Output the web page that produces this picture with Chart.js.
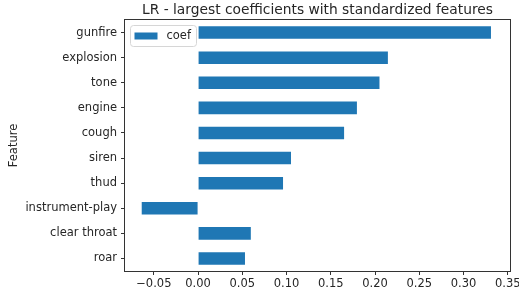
<!DOCTYPE html>
<html>
<head>
<meta charset="utf-8">
<script src="https://cdn.jsdelivr.net/npm/chart.js@4"></script>
<style>
  html, body { margin: 0; padding: 0; background: #fff; }
  #wrap { width: 519px; height: 300px; }
</style>
</head>
<body>
<div id="wrap"><canvas id="coefChart" width="519" height="300"></canvas></div>
<script>
// data
const features = ['gunfire', 'explosion', 'tone', 'engine', 'cough', 'siren', 'thud', 'instrument-play', 'clear throat', 'roar'];
const coef = [0.331, 0.2145, 0.205, 0.1795, 0.165, 0.105, 0.096, -0.0637, 0.0596, 0.053];
const xTicks = [-0.05, 0.00, 0.05, 0.10, 0.15, 0.20, 0.25, 0.30, 0.35];

const chartTitle = 'LR - largest coefficients with standardized features';
const textColor = '#262626';
const axisColor = '#333333';
const tickFont = { family: 'DejaVu Sans', size: 11.5 };

// frame + title + legend box, matplotlib style
const mplDecor = {
    id: 'mplDecor',
    afterDraw(chart) {
        const ctx = chart.ctx;
        const a = chart.chartArea;
        ctx.save();
        // spines
        ctx.strokeStyle = axisColor;
        ctx.lineWidth = 1;
        ctx.strokeRect(Math.round(a.left) - 0.5, Math.round(a.top) - 0.5,
            Math.round(a.right - a.left) + 1, Math.round(a.bottom - a.top) + 1);

        // title
        ctx.fillStyle = textColor;
        ctx.font = '13.8px "DejaVu Sans"';
        ctx.textAlign = 'center';
        ctx.textBaseline = 'middle';
        ctx.fillText(chartTitle, (a.left + a.right) / 2, 10);

        // legend (upper left inside axes)
        const lx = a.left + 5.5, ly = a.top + 5.5, lw = 66, lh = 21, r = 3;
        ctx.beginPath();
        ctx.moveTo(lx + r, ly);
        ctx.arcTo(lx + lw, ly, lx + lw, ly + lh, r);
        ctx.arcTo(lx + lw, ly + lh, lx, ly + lh, r);
        ctx.arcTo(lx, ly + lh, lx, ly, r);
        ctx.arcTo(lx, ly, lx + lw, ly, r);
        ctx.closePath();
        ctx.fillStyle = 'rgba(255,255,255,0.8)';
        ctx.fill();
        ctx.strokeStyle = '#d6d6d6';
        ctx.stroke();
        ctx.fillStyle = '#1f77b4';
        ctx.fillRect(lx + 4, ly + 7, 23, 7);
        ctx.fillStyle = textColor;
        ctx.font = '11.5px "DejaVu Sans"';
        ctx.textAlign = 'left';
        ctx.fillText('coef', lx + 36, ly + 11);
        ctx.restore();
    }
};

const ctx = document.getElementById('coefChart').getContext('2d');
new Chart(ctx, {
    type: 'bar',
    data: {
        labels: features,
        datasets: [{
            label: 'coef',
            data: coef,
            backgroundColor: '#1f77b4',
            borderWidth: 0,
            barPercentage: 0.5,
            categoryPercentage: 1.0
        }]
    },
    options: {
        indexAxis: 'y',
        responsive: false,
        animation: false,
        layout: { padding: { top: 20, right: 9, left: 0, bottom: 0 } },
        plugins: {
            legend: { display: false },
            tooltip: { enabled: false }
        },
        scales: {
            x: {
                min: -0.0826,
                max: 0.3525,
                border: { display: false },
                grid: { drawOnChartArea: false, drawTicks: true, tickLength: 4, color: axisColor },
                afterBuildTicks: (scale) => { scale.ticks = xTicks.map(v => ({ value: v })); },
                afterFit: (scale) => {
                    scale.height = 29;
                    // let the last label hang off the edge like matplotlib does
                    scale.paddingLeft = 0;
                    scale.paddingRight = 0;
                },
                ticks: {
                    color: textColor,
                    padding: 2,
                    maxRotation: 0,
                    font: tickFont,
                    callback: (v) => (v < 0 ? '\u2212' : '') + Math.abs(v).toFixed(2)
                }
            },
            y: {
                border: { display: false },
                grid: { offset: false, drawOnChartArea: false, drawTicks: true, tickLength: 4, color: axisColor },
                afterFit: (scale) => { scale.width = 125; },
                ticks: {
                    color: textColor,
                    padding: 4,
                    font: tickFont
                },
                title: {
                    display: true,
                    text: 'Feature',
                    color: textColor,
                    padding: { top: 7, bottom: 0 },
                    font: tickFont
                }
            }
        }
    },
    plugins: [mplDecor]
});
</script>
</body>
</html>
